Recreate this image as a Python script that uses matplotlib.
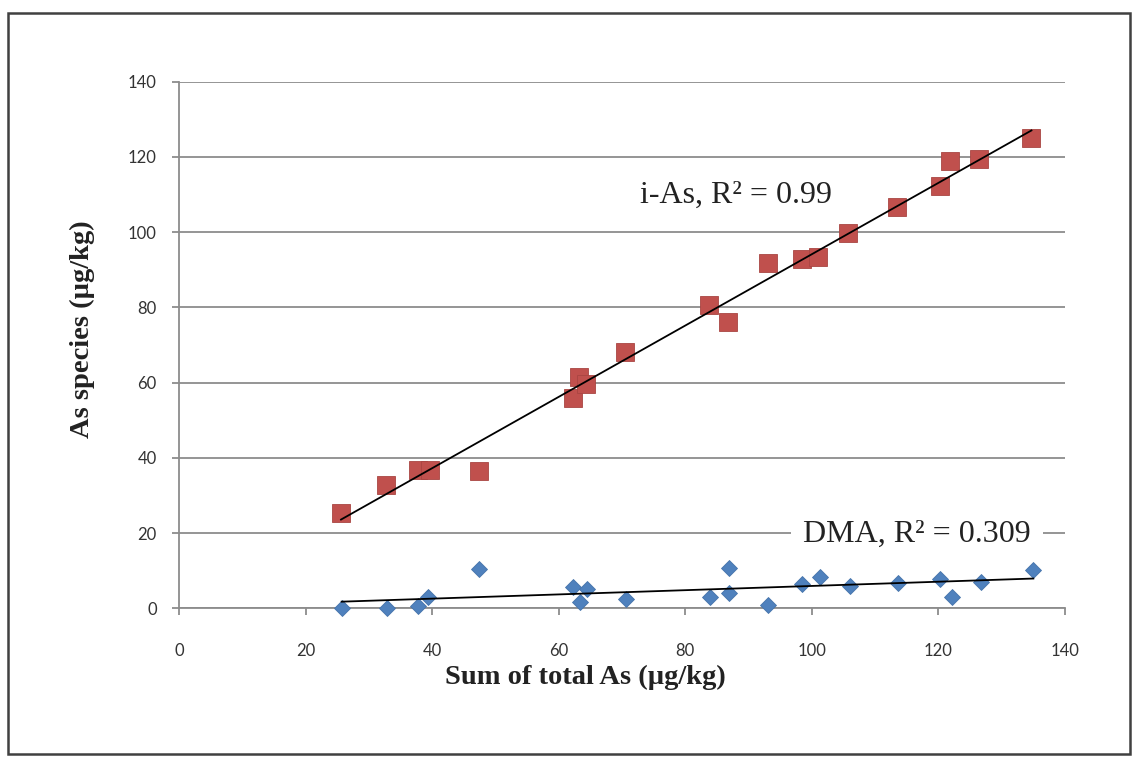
import numpy as np
import matplotlib
matplotlib.use('Agg')
import matplotlib.pyplot as plt
from matplotlib.patches import Rectangle

# values (sum of total As vs species, µg/kg)
x_ias = [25.6, 32.7, 37.8, 39.7, 47.4, 62.3, 63.2, 64.3, 70.5, 83.8,
         86.7, 93.1, 98.5, 101.0, 105.7, 113.4, 120.2, 121.8, 126.4, 134.7]
y_ias = [25.4, 32.8, 36.8, 36.8, 36.6, 55.8, 61.6, 59.6, 68.2, 80.6,
         76.2, 91.9, 92.8, 93.5, 99.9, 106.6, 112.3, 119.0, 119.4, 125.0]

x_dma = [25.7, 32.8, 37.7, 39.4, 47.4, 62.2, 63.3, 64.4, 70.6, 83.9, 86.9,
         86.9, 93.1, 98.5, 101.3, 106.0, 113.6, 120.3, 122.1, 126.7, 135.0]
y_dma = [0.0, 0.0, 0.7, 2.9, 10.4, 5.6, 1.8, 5.1, 2.4, 3.1, 10.6,
         4.0, 0.9, 6.5, 8.4, 5.9, 6.8, 7.8, 3.1, 7.1, 10.2]

x_ticks = [0, 20, 40, 60, 80, 100, 120, 140]
y_ticks = [0, 20, 40, 60, 80, 100, 120, 140]

W, H = 1139, 759
fig = plt.figure(figsize=(W / 100, H / 100), dpi=100)
ax = fig.add_axes([179 / W, 1 - 608.3 / H, (1065 - 179) / W, (608.3 - 81.7) / H])

grid_c = '#8c8c8c'
ax.set_xlim(0, 140)
ax.set_ylim(0, 140)
ax.set_xticks(x_ticks)
ax.set_yticks(y_ticks)
ax.yaxis.grid(True, color=grid_c, linewidth=1.3)
ax.set_axisbelow(True)
for s in ['top', 'right']:
    ax.spines[s].set_visible(False)
for s in ['left', 'bottom']:
    ax.spines[s].set_color(grid_c)
    ax.spines[s].set_linewidth(1.3)
ax.tick_params(axis='both', direction='out', length=5, width=1.3, color=grid_c,
               labelsize=12, labelcolor='#333333')
ax.tick_params(axis='x', pad=20)
ax.tick_params(axis='y', pad=11)
for lab in ax.get_xticklabels() + ax.get_yticklabels():
    lab.set_family(['Lato', 'DejaVu Sans'])

# scatter points
ax.plot(x_ias, y_ias, linestyle='none', marker='s', markersize=13,
        markerfacecolor='#C0504D', markeredgecolor='#A94542', markeredgewidth=0.6,
        zorder=3, clip_on=False)
ax.plot(x_dma, y_dma, linestyle='none', marker='D', markersize=8,
        markerfacecolor='#4F81BD', markeredgecolor='#4674AB', markeredgewidth=0.6,
        zorder=3, clip_on=False)

# linear trend lines
for xs, ys in [(x_ias, y_ias), (x_dma, y_dma)]:
    k, b = np.polyfit(xs, ys, 1)
    xl = np.array([min(xs), max(xs)])
    ax.plot(xl, k * xl + b, color='black', linewidth=1.3, zorder=4)

serif = ['Liberation Serif', 'DejaVu Serif']
ax.text(72.8, 107.8, 'i-As, R\u00b2 = 0.99', fontsize=23, family=serif,
        ha='left', va='baseline', color='#222222', zorder=5)
ax.text(98.6, 17.7, 'DMA, R\u00b2 = 0.309', fontsize=23, family=serif,
        ha='left', va='baseline', color='#222222', zorder=5,
        bbox=dict(facecolor='white', edgecolor='none', pad=9))

# axis titles
fig.text(585 / W, 1 - 677 / H, 'Sum of total As (\u00b5g/kg)', fontsize=20.5,
         fontweight='bold', family=serif, ha='center', va='center', color='#222222')
fig.text(82 / W, 1 - 329 / H, 'As species (\u00b5g/kg)', fontsize=20.5,
         fontweight='bold', family=serif, ha='center', va='center',
         rotation=90, color='#222222')

# outer chart frame
fig.patches.append(Rectangle((8 / W, 1 - 754 / H), (1130 - 8) / W, (754 - 13) / H,
                             transform=fig.transFigure, fill=False,
                             edgecolor='#404040', linewidth=1.8))

fig.savefig('out.png', dpi=100)
